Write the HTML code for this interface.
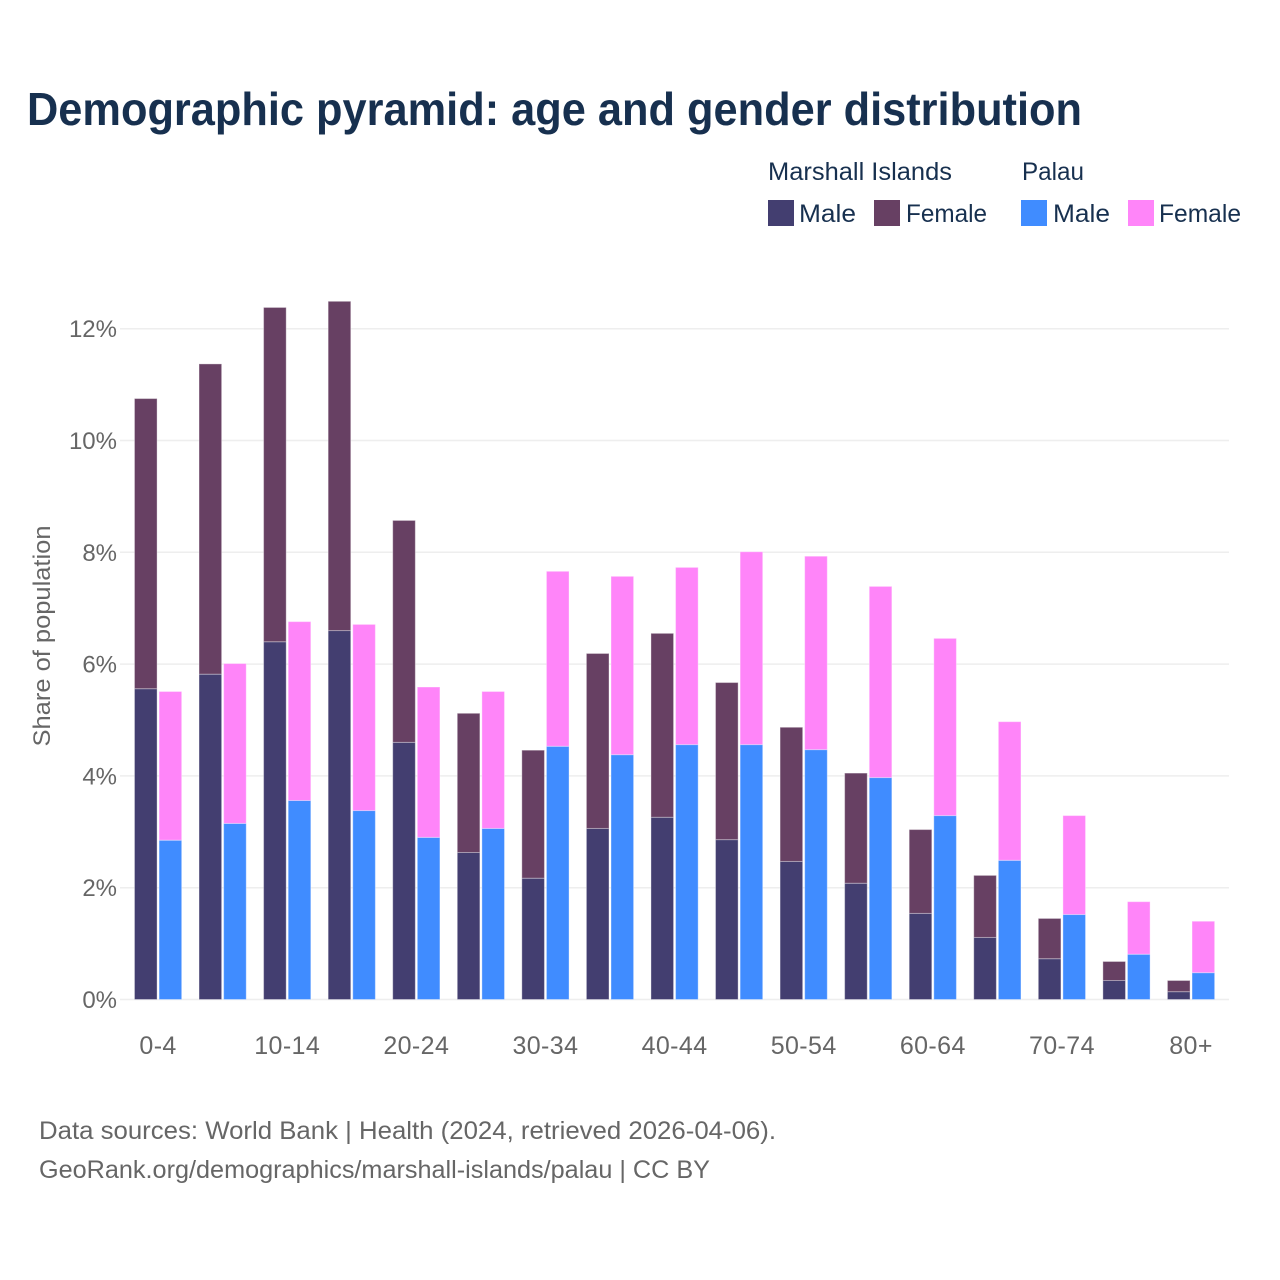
<!DOCTYPE html>
<html lang="en">
<head>
<meta charset="utf-8">
<title>Demographic pyramid</title>
<style>
html,body{margin:0;padding:0;background:#fff;}
svg{display:block;}
text{font-family:"Liberation Sans",sans-serif;}
</style>
</head>
<body>
<svg id="chart" xmlns="http://www.w3.org/2000/svg" width="1280" height="1280" viewBox="0 0 1280 1280">
  <rect x="0" y="0" width="1280" height="1280" fill="#ffffff"/>
  <text x="27" y="125" font-size="46" font-weight="700" fill="#17304f" textLength="1055" lengthAdjust="spacingAndGlyphs">Demographic pyramid: age and gender distribution</text>

  <g font-size="25" fill="#17304f">
    <text x="768" y="180" textLength="184" lengthAdjust="spacingAndGlyphs">Marshall Islands</text>
    <text x="1022" y="180" textLength="62" lengthAdjust="spacingAndGlyphs">Palau</text>
    <rect x="768" y="200" width="26" height="26" fill="#433e70"/>
    <text x="799" y="222" textLength="57" lengthAdjust="spacingAndGlyphs">Male</text>
    <rect x="874" y="200" width="26" height="26" fill="#674063"/>
    <text x="906" y="222" textLength="81" lengthAdjust="spacingAndGlyphs">Female</text>
    <rect x="1021" y="200" width="26" height="26" fill="#408cff"/>
    <text x="1053" y="222" textLength="57" lengthAdjust="spacingAndGlyphs">Male</text>
    <rect x="1128" y="200" width="26" height="26" fill="#ff85f9"/>
    <text x="1159" y="222" textLength="82" lengthAdjust="spacingAndGlyphs">Female</text>
  </g>

  <g id="grid"></g>
  <g id="bars"></g>
  <g id="yticks"></g>
  <g id="xticks"></g>

  <text transform="translate(50,636) rotate(-90)" text-anchor="middle" font-size="24" fill="#666666" textLength="221" lengthAdjust="spacingAndGlyphs">Share of population</text>

  <text x="39" y="1139" font-size="25" fill="#666666" textLength="737" lengthAdjust="spacingAndGlyphs">Data sources: World Bank | Health (2024, retrieved 2026-04-06).</text>
  <text x="39" y="1178" font-size="25" fill="#666666" textLength="671" lengthAdjust="spacingAndGlyphs">GeoRank.org/demographics/marshall-islands/palau | CC BY</text>
</svg>
<script>
const categories = ["0-4","5-9","10-14","15-19","20-24","25-29","30-34","35-39","40-44","45-49","50-54","55-59","60-64","65-69","70-74","75-79","80+"];
const xTickLabels = ["0-4","10-14","20-24","30-34","40-44","50-54","60-64","70-74","80+"];
const yTickValues = [0,2,4,6,8,10,12];
const marshallMale = [5.56,5.82,6.40,6.60,4.60,2.63,2.17,3.06,3.26,2.86,2.47,2.08,1.54,1.11,0.73,0.34,0.14];
const marshallFemale = [5.19,5.55,5.98,5.89,3.97,2.49,2.29,3.13,3.29,2.81,2.40,1.97,1.50,1.11,0.72,0.34,0.20];
const palauMale = [2.85,3.15,3.56,3.38,2.90,3.06,4.53,4.38,4.56,4.56,4.47,3.97,3.29,2.49,1.52,0.81,0.48];
const palauFemale = [2.66,2.86,3.20,3.33,2.69,2.45,3.13,3.19,3.17,3.45,3.46,3.42,3.17,2.48,1.77,0.94,0.92];

const NS = "http://www.w3.org/2000/svg";
const plotLeft = 125.8, bandStep = 64.56, barWidth = 22.6, barGap = 2;
const baseY = 999.5, pxPerUnit = 55.9;
function xCenter(i){ return plotLeft + bandStep * (i + 0.5); }
function yScale(v){ return baseY - pxPerUnit * v; }

const grid = document.getElementById("grid");
const yticks = document.getElementById("yticks");
yTickValues.forEach(function(v){
  const line = document.createElementNS(NS,"line");
  
  
  line.setAttribute("x1", 120);
  line.setAttribute("x2", 1229);
  line.setAttribute("y1", yScale(v));
  line.setAttribute("y2", yScale(v));
  line.setAttribute("stroke", "#eeeeee");
  line.setAttribute("stroke-width", 1.5);
  grid.appendChild(line);
  const t = document.createElementNS(NS,"text");
  
  
  t.setAttribute("x", 117);
  t.setAttribute("y", yScale(v) + 8.5);
  t.setAttribute("text-anchor", "end");
  t.setAttribute("font-size", 24);
  t.setAttribute("fill", "#666666");
  t.textContent = v + "%";
  yticks.appendChild(t);
});

const bars = document.getElementById("bars");
function addBar(x, v0, v1, fill, label){
  const r = document.createElementNS(NS,"rect");
  
  
  r.setAttribute("x", x);
  r.setAttribute("y", yScale(v1));
  r.setAttribute("width", barWidth);
  r.setAttribute("height", yScale(v0) - yScale(v1));
  r.setAttribute("fill", fill);
  r.setAttribute("stroke", "#ffffff");
  r.setAttribute("stroke-opacity", "0.35");
  r.setAttribute("stroke-width", 1);
  r.setAttribute("aria-label", label);
  bars.appendChild(r);
}
categories.forEach(function(c,i){
  const left = xCenter(i) - barGap / 2 - barWidth;
  const right = xCenter(i) + barGap / 2;
  addBar(left, 0, marshallMale[i], "#433e70", "Marshall Islands male " + c);
  addBar(left, marshallMale[i], marshallMale[i] + marshallFemale[i], "#674063", "Marshall Islands female " + c);
  addBar(right, 0, palauMale[i], "#408cff", "Palau male " + c);
  addBar(right, palauMale[i], palauMale[i] + palauFemale[i], "#ff85f9", "Palau female " + c);
});

const xticks = document.getElementById("xticks");
xTickLabels.forEach(function(label){
  const t = document.createElementNS(NS,"text");
  
  
  t.setAttribute("x", xCenter(categories.indexOf(label)));
  t.setAttribute("y", 1054);
  t.setAttribute("text-anchor", "middle");
  t.setAttribute("font-size", 25);
  t.setAttribute("letter-spacing", "0.4");
  t.setAttribute("fill", "#666666");
  t.textContent = label;
  xticks.appendChild(t);
});
</script>
</body>
</html>
